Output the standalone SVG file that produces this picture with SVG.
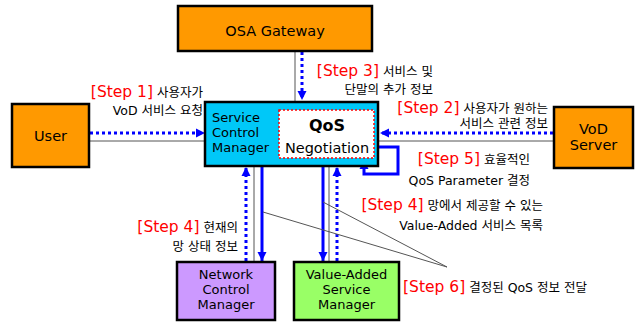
<svg xmlns="http://www.w3.org/2000/svg" width="638" height="325" viewBox="0 0 638 325">
<style>
.box{stroke:#000;stroke-width:2.5}
.org{fill:#FF9900}
.cyan{fill:#00C8F8}
.pur{fill:#CC99FF}
.grn{fill:#99FF66}
.bt{font-family:"DejaVu Sans",sans-serif;font-size:14.5px;fill:#000;text-anchor:middle}
.bm{font-family:"DejaVu Sans",sans-serif;font-size:13px;fill:#000;text-anchor:middle}
.lb{font-family:"DejaVu Sans","Noto Sans CJK KR",sans-serif;font-size:12.5px;fill:#000}
.st{font-family:"DejaVu Sans",sans-serif;font-size:15.5px;fill:#FF0000}
.dot{stroke:#0000FF;stroke-width:3;stroke-dasharray:3 3;fill:none}
.sol{stroke:#0000FF;stroke-width:3;fill:none}
.gry{stroke:#555;stroke-width:1;fill:none}
</style>
<defs>
<marker id="ah" viewBox="0 0 10 10" refX="10" refY="5" markerWidth="9" markerHeight="10" markerUnits="userSpaceOnUse" orient="auto">
<path d="M0,0 L10,5 L0,10 Z" fill="#0000FF"/>
</marker>
</defs>
<rect width="638" height="325" fill="#fff"/>

<g id="connectors">
<line class="gry" x1="295" y1="51" x2="295" y2="102"/>
<line class="dot" x1="302" y1="52" x2="302" y2="100" marker-end="url(#ah)"/>
<line class="gry" x1="89" y1="141" x2="205" y2="141"/>
<line class="dot" x1="90" y1="133" x2="205" y2="133" marker-end="url(#ah)"/>
<line class="gry" x1="378" y1="141" x2="554" y2="141"/>
<line class="dot" x1="553" y1="133" x2="380" y2="133" marker-end="url(#ah)"/>
<path class="sol" d="M372,147 H398 V174 H364 V160" marker-end="url(#ah)"/>
<line class="dot" x1="246" y1="261" x2="246" y2="167" marker-end="url(#ah)"/>
<line class="gry" x1="254" y1="166" x2="254" y2="262"/>
<line class="sol" x1="262" y1="167" x2="262" y2="261" marker-end="url(#ah)"/>
<line class="sol" x1="323" y1="167" x2="323" y2="261" marker-end="url(#ah)"/>
<line class="gry" x1="329" y1="166" x2="329" y2="262"/>
<line class="dot" x1="337" y1="261" x2="337" y2="167" marker-end="url(#ah)"/>
<line class="gry" x1="263" y1="212" x2="447" y2="267"/>
<line class="gry" x1="323" y1="202" x2="447" y2="267"/>
</g>

<g id="osa">
<rect class="box org" x="178" y="6" width="194" height="45"/>
<text class="bt" x="275" y="36">OSA Gateway</text>
</g>
<g id="user">
<rect class="box org" x="12" y="104" width="77" height="63"/>
<text class="bt" x="50.5" y="141">User</text>
</g>
<g id="vod">
<rect class="box org" x="554" y="107" width="79" height="61"/>
<text class="bt" x="593.5" y="134">VoD</text>
<text class="bt" x="593.5" y="150">Server</text>
</g>
<g id="scm">
<rect class="box cyan" x="205" y="102" width="173" height="64"/>
<text class="bm" x="212" y="122" style="text-anchor:start">Service</text>
<text class="bm" x="212" y="137" style="text-anchor:start">Control</text>
<text class="bm" x="212" y="152" style="text-anchor:start">Manager</text>
</g>
<g id="qos">
<rect x="279" y="110" width="95" height="48" fill="#fff" stroke="#FF0000" stroke-width="1.5" stroke-dasharray="2 2"/>
<text class="bt" x="327" y="131" style="font-weight:bold;font-size:16px">QoS</text>
<text class="bt" x="327" y="153" style="font-size:14.5px">Negotiation</text>
</g>
<g id="ncm">
<rect class="box pur" x="177" y="262" width="98" height="58"/>
<text class="bm" x="226" y="279">Network</text>
<text class="bm" x="226" y="294">Control</text>
<text class="bm" x="226" y="309">Manager</text>
</g>
<g id="vasm">
<rect class="box grn" x="294" y="262" width="105" height="58"/>
<text class="bm" x="346.5" y="279">Value-Added</text>
<text class="bm" x="346.5" y="294">Service</text>
<text class="bm" x="346.5" y="309">Manager</text>
</g>

<g id="labels">
<text class="lb" x="203" y="97" text-anchor="end"><tspan class="st">[Step 1]</tspan> 사용자가</text>
<text class="lb" x="203" y="115" text-anchor="end">VoD 서비스 요청</text>
<text class="lb" x="433" y="76" text-anchor="end"><tspan class="st">[Step 3]</tspan> 서비스 및</text>
<text class="lb" x="433" y="94" text-anchor="end">단말의 추가 정보</text>
<text class="lb" x="548" y="113" text-anchor="end"><tspan class="st">[Step 2]</tspan> 사용자가 원하는</text>
<text class="lb" x="548" y="128" text-anchor="end">서비스 관련 정보</text>
<text class="lb" x="530" y="164" text-anchor="end"><tspan class="st">[Step 5]</tspan> 효율적인</text>
<text class="lb" x="530" y="185" text-anchor="end">QoS Parameter 결정</text>
<text class="lb" x="238" y="232" text-anchor="end"><tspan class="st">[Step 4]</tspan> 현재의</text>
<text class="lb" x="238" y="251" text-anchor="end">망 상태 정보</text>
<text class="lb" x="543" y="210" text-anchor="end"><tspan class="st">[Step 4]</tspan> 망에서 제공할 수 있는</text>
<text class="lb" x="543" y="230" text-anchor="end">Value-Added 서비스 목록</text>
<text class="lb" x="403" y="292"><tspan class="st">[Step 6]</tspan> 결정된 QoS 정보 전달</text>
</g>
</svg>
